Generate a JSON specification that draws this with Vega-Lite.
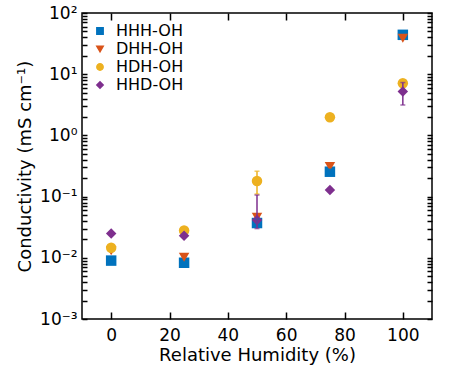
{
  "$schema": "https://vega.github.io/schema/vega-lite/v6.json",
  "width": 350,
  "height": 306,
  "autosize": "none",
  "padding": {"left": 82, "top": 13, "right": 22, "bottom": 46},
  "config": {
    "font": "DejaVu Sans",
    "view": {"stroke": "#000", "strokeWidth": 1.5},
    "axis": {"grid": false, "domain": false, "zindex": 1, "ticks": true, "tickColor": "#000", "tickWidth": 1.5, "labelColor": "#000", "titleColor": "#000", "labelFontSize": 17, "titleFontSize": 18, "titleFontWeight": "normal"}
  },
  "data": {"values": [
    {"rh": 0, "series": "HHH-OH", "value": 0.009},
    {"rh": 25, "series": "HHH-OH", "value": 0.0083},
    {"rh": 50, "series": "HHH-OH", "value": 0.037, "lo": 0.032, "hi": 0.043},
    {"rh": 75, "series": "HHH-OH", "value": 0.255, "lo": 0.23, "hi": 0.28},
    {"rh": 100, "series": "HHH-OH", "value": 44},
    {"rh": 0, "series": "DHH-OH", "value": 0.013},
    {"rh": 25, "series": "DHH-OH", "value": 0.0102},
    {"rh": 50, "series": "DHH-OH", "value": 0.046},
    {"rh": 75, "series": "DHH-OH", "value": 0.31},
    {"rh": 100, "series": "DHH-OH", "value": 38.6},
    {"rh": 0, "series": "HDH-OH", "value": 0.0146},
    {"rh": 25, "series": "HDH-OH", "value": 0.028},
    {"rh": 50, "series": "HDH-OH", "value": 0.18, "lo": 0.11, "hi": 0.26},
    {"rh": 75, "series": "HDH-OH", "value": 1.98},
    {"rh": 100, "series": "HDH-OH", "value": 7.1},
    {"rh": 0, "series": "HHD-OH", "value": 0.025},
    {"rh": 25, "series": "HHD-OH", "value": 0.023},
    {"rh": 50, "series": "HHD-OH", "value": 0.0415, "lo": 0.03, "hi": 0.106},
    {"rh": 75, "series": "HHD-OH", "value": 0.128},
    {"rh": 100, "series": "HHD-OH", "value": 5.2, "lo": 3.14, "hi": 7.3}
  ]},
  "layer": [
    {
      "mark": {"type": "point", "filled": true, "opacity": 1, "size": 110},
      "encoding": {
        "x": {"field": "rh", "type": "quantitative", "scale": {"domain": [-10, 110]},
          "axis": {"orient": "bottom", "title": "Relative Humidity (%)", "values": [0, 20, 40, 60, 80, 100], "offset": -7, "tickSize": 7, "labelPadding": 8, "titlePadding": 3}},
        "y": {"field": "value", "type": "quantitative", "scale": {"type": "log", "domain": [0.001, 100]},
          "axis": {"orient": "left", "title": "Conductivity (mS cm⁻¹)", "titlePadding": 5, "offset": -5, "tickSize": 5,
            "values": [0.001, 0.002, 0.003, 0.004, 0.005, 0.006, 0.007, 0.008, 0.009, 0.01, 0.02, 0.03, 0.04, 0.05, 0.06, 0.07, 0.08, 0.09, 0.1, 0.2, 0.3, 0.4, 0.5, 0.6, 0.7, 0.8, 0.9, 1, 2, 3, 4, 5, 6, 7, 8, 9, 10, 20, 30, 40, 50, 60, 70, 80, 90, 100],
            "labelExpr": "datum.value===100?'10²':datum.value===10?'10¹':datum.value===1?'10⁰':datum.value===0.1?'10⁻¹':datum.value===0.01?'10⁻²':datum.value===0.001?'10⁻³':''",
            "labelPadding": 5}},
        "color": {"field": "series", "type": "nominal",
          "scale": {"domain": ["HHH-OH", "DHH-OH", "HDH-OH", "HHD-OH"], "range": ["#0072BD", "#D95319", "#EDB120", "#7E2F8E"]},
          "legend": {"orient": "none", "legendX": 10, "legendY": 10, "title": null, "labelFontSize": 16, "symbolSize": 40, "rowPadding": 2, "labelOffset": 8, "labelColor": "#000"}},
        "shape": {"field": "series", "type": "nominal",
          "scale": {"domain": ["HHH-OH", "DHH-OH", "HDH-OH", "HHD-OH"], "range": ["square", "triangle-down", "circle", "diamond"]}}
      }
    },
    {
      "mark": {"type": "point", "opacity": 0},
      "encoding": {
        "x": {"field": "rh", "type": "quantitative", "scale": {"domain": [-10, 110]},
          "axis": {"orient": "top", "title": null, "labels": false, "values": [0, 20, 40, 60, 80, 100], "offset": -7, "tickSize": 7}},
        "y": {"field": "value", "type": "quantitative", "scale": {"type": "log", "domain": [0.001, 100]},
          "axis": {"orient": "right", "title": null, "labels": false, "offset": -5, "tickSize": 5,
            "values": [0.001, 0.002, 0.003, 0.004, 0.005, 0.006, 0.007, 0.008, 0.009, 0.01, 0.02, 0.03, 0.04, 0.05, 0.06, 0.07, 0.08, 0.09, 0.1, 0.2, 0.3, 0.4, 0.5, 0.6, 0.7, 0.8, 0.9, 1, 2, 3, 4, 5, 6, 7, 8, 9, 10, 20, 30, 40, 50, 60, 70, 80, 90, 100]}}
      }
    },
    {
      "transform": [{"filter": "isValid(datum.lo)"}],
      "mark": {"type": "errorbar", "ticks": {"size": 5}, "thickness": 1.5},
      "encoding": {
        "x": {"field": "rh", "type": "quantitative", "scale": {"domain": [-10, 110]}, "axis": null},
        "y": {"field": "lo", "type": "quantitative", "scale": {"type": "log", "domain": [0.001, 100]}, "axis": null},
        "y2": {"field": "hi"},
        "color": {"field": "series", "type": "nominal"}
      }
    }
  ],
  "resolve": {"axis": {"x": "independent", "y": "independent"}}
}
